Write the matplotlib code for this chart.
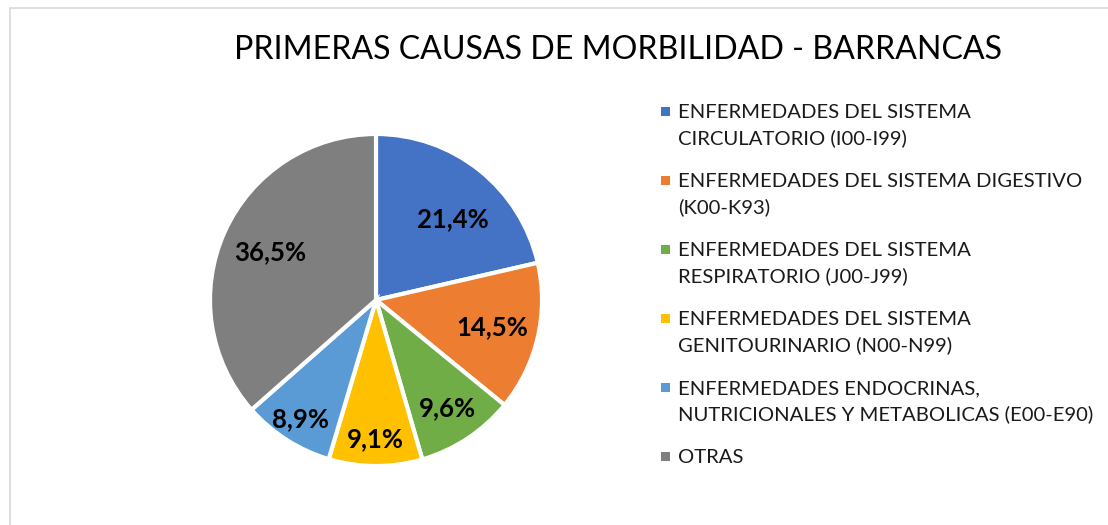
import numpy as np
import matplotlib
matplotlib.use('Agg')
import matplotlib.pyplot as plt
from matplotlib.patches import Rectangle

plt.rcParams['font.family'] = ['Lato', 'DejaVu Sans']

# data
categorias = ['ENFERMEDADES DEL SISTEMA\nCIRCULATORIO (I00-I99)',
              'ENFERMEDADES DEL SISTEMA DIGESTIVO\n(K00-K93)',
              'ENFERMEDADES DEL SISTEMA\nRESPIRATORIO (J00-J99)',
              'ENFERMEDADES DEL SISTEMA\nGENITOURINARIO (N00-N99)',
              'ENFERMEDADES ENDOCRINAS,\nNUTRICIONALES Y METABOLICAS (E00-E90)',
              'OTRAS']
porcentajes = [21.4, 14.5, 9.6, 9.1, 8.9, 36.5]
colores = ['#4472C4', '#ED7D31', '#70AD47', '#FFC000', '#5B9BD5', '#7F7F7F']
label_r = [0.67, 0.72, 0.78, 0.84, 0.85, 0.70]
label_da = [-5, 0, 0, 0, 0, 0]  # small angular nudge (deg) like Excel's best fit

W, H = 1108, 525
fig = plt.figure(figsize=(W/100, H/100), dpi=100)

# chart area border (cut off on the right and bottom)
fig.patches.append(Rectangle((10/W, -0.2), 2, 1.2 - 8/H, transform=fig.transFigure,
                             fill=False, edgecolor='#D9D9D9', linewidth=1.2))

cx, cy, r = 376, 300, 166
ax = fig.add_axes([(cx - r)/W, (H - cy - r)/H, 2*r/W, 2*r/H])
wedges, _ = ax.pie(porcentajes, colors=colores, startangle=90, counterclock=False,
                   wedgeprops=dict(edgecolor='white', linewidth=3))
ax.set_xlim(-1, 1)
ax.set_ylim(-1, 1)
ax.set_aspect('equal')
ax.axis('off')

for w, val, d, da in zip(wedges, porcentajes, label_r, label_da):
    ang = np.deg2rad((w.theta1 + w.theta2) / 2 + da)
    ax.text(d*np.cos(ang), d*np.sin(ang), f'{val:.1f}%'.replace('.', ','),
            ha='center', va='center', fontsize=18.5, fontweight='bold', color='black')

fig.text(618/W, 1 - 50/H, 'PRIMERAS CAUSAS DE MORBILIDAD - BARRANCAS',
         ha='center', va='center', fontsize=23.1, color='black')

# legend drawn by hand so the marker sits on the first line
y0 = 111
step = 69
for i, (cat, col) in enumerate(zip(categorias, colores)):
    y = y0 + i*step
    fig.patches.append(Rectangle((661/W, 1 - (y + 4.5)/H), 9/W, 9/H,
                                 transform=fig.transFigure, facecolor=col, edgecolor='none'))
    fig.text(678/W, 1 - (y - 7)/H, cat, ha='left', va='top', fontsize=14.6,
             linespacing=1.58, color='#1a1a1a')

fig.savefig('out.png', dpi=100)
